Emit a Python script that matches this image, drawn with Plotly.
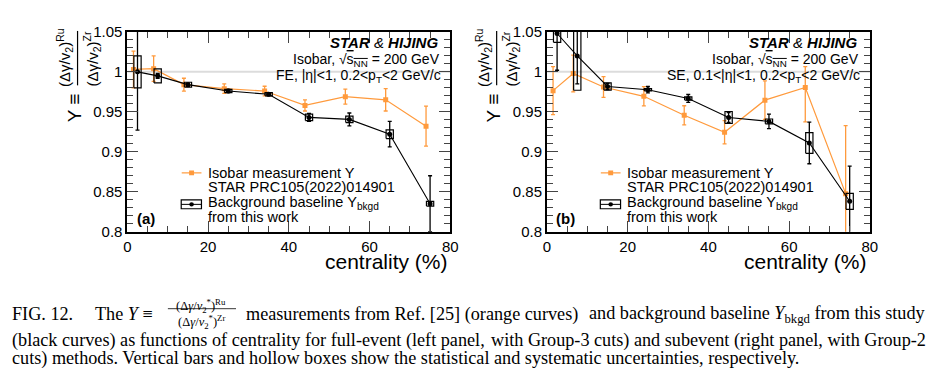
import plotly.graph_objects as go

# ---------------- data ----------------
cent_iso = [1.5, 6.5, 14, 24, 34, 44, 54, 64, 74]
cent_bkg = [2.5, 7.5, 15, 25, 35, 45, 55, 65, 75]

# (a) full event
y_iso_fe = [1.003, 1.004, 0.984, 0.979, 0.976, 0.958, 0.969, 0.965, 0.932]
stat_iso_fe = [0.023, 0.016, 0.008, 0.006, 0.006, 0.007, 0.0095, 0.014, 0.025]
y_bkg_fe = [1.000, 0.995, 0.984, 0.976, 0.972, 0.943, 0.9405, 0.922, 0.835]
stat_bkg_fe = [0.073, 0.003, 0.002, 0.002, 0.002, 0.005, 0.008, 0.016, 0.035]
sys_bkg_fe = [0.020, 0.0088, 0.003, 0.002, 0.002, 0.004, 0.004, 0.0055, 0.003]

# (b) subevent
y_iso_se = [0.9765, 0.998, 0.981, 0.9694, 0.9456, 0.9245, 0.9646, 0.9805, 0.8476]
stat_iso_se_up = [0.030, 0.023, 0.013, 0.012, 0.012, 0.0145, 0.024, 0.026, 0.085]
stat_iso_se_dn = [0.030, 0.023, 0.013, 0.012, 0.012, 0.0145, 0.024, 0.043, 0.085]
y_bkg_se = [1.048, 1.020, 0.9817, 0.9777, 0.9667, 0.9429, 0.938, 0.911, 0.838]
stat_bkg_se = [0.046, 0.035, 0.004, 0.004, 0.005, 0.006, 0.009, 0.026, 0.044]
sys_bkg_se = [0.011, 0.043, 0.0045, 0.0015, 0.002, 0.0075, 0.003, 0.013, 0.010]

box_halfwidth = 0.9

x_ticks = [0, 20, 40, 60, 80]
y_ticks = [0.8, 0.85, 0.9, 0.95, 1.0, 1.05]
y_ticktext = ["0.8", "0.85", "0.9", "0.95", "1", "1.05"]

ORANGE = "#ff9a3c"
W, H = 944, 373
FONT = "Liberation Sans, Arial, sans-serif"
SERIF = "Liberation Serif, Times New Roman, serif"


def X(px):
    return px / W


def Y(py):
    return 1 - py / H


fig = go.Figure()


def box_path(xs, ys, ss, hw):
    bx, by = [], []
    for x, y, s in zip(xs, ys, ss):
        bx += [x - hw, x + hw, x + hw, x - hw, x - hw, None]
        by += [y - s, y - s, y + s, y + s, y - s, None]
    return bx, by


def add_panel(xa, ya, yi, ei_up, ei_dn, yb, eb, sb):
    fig.add_trace(go.Scatter(
        x=cent_iso, y=yi, mode="lines+markers", xaxis=xa, yaxis=ya,
        line=dict(color=ORANGE, width=1.2),
        marker=dict(symbol="square", size=5, color=ORANGE),
        error_y=dict(type="data", array=ei_up, arrayminus=ei_dn, symmetric=False,
                     color=ORANGE, thickness=1.3, width=2),
        showlegend=False, hoverinfo="skip"))
    bx, by = box_path(cent_bkg, yb, sb, box_halfwidth)
    fig.add_trace(go.Scatter(
        x=bx, y=by, mode="lines", xaxis=xa, yaxis=ya,
        line=dict(color="black", width=1.2), showlegend=False, hoverinfo="skip"))
    fig.add_trace(go.Scatter(
        x=cent_bkg, y=yb, mode="lines+markers", xaxis=xa, yaxis=ya,
        line=dict(color="black", width=1.1),
        marker=dict(symbol="circle", size=5, color="black"),
        error_y=dict(type="data", array=eb, color="black", thickness=1.3, width=2),
        showlegend=False, hoverinfo="skip"))


add_panel("x", "y", y_iso_fe, stat_iso_fe, stat_iso_fe, y_bkg_fe, stat_bkg_fe, sys_bkg_fe)
add_panel("x2", "y2", y_iso_se, stat_iso_se_up, stat_iso_se_dn, y_bkg_se, stat_bkg_se, sys_bkg_se)

ydom = [Y(233.3), Y(24)]
axis_common = dict(showline=True, linewidth=2, linecolor="black", mirror="allticks",
                   ticks="inside", showgrid=False, zeroline=False,
                   tickfont=dict(size=15, color="black", family=FONT))
xcommon = dict(axis_common, range=[0, 80], tickvals=x_ticks, ticklen=11, tickwidth=1,
               minor=dict(dtick=5, tick0=0, ticklen=6, ticks="inside", tickwidth=1, showgrid=False))
ycommon = dict(axis_common, range=[0.8, 1.05], tickvals=y_ticks, ticktext=y_ticktext,
               ticklen=11, tickwidth=1,
               minor=dict(dtick=0.01, tick0=0.8, ticklen=6, ticks="inside", tickwidth=1, showgrid=False))

fig.update_layout(
    width=W, height=H, autosize=False,
    margin=dict(l=0, r=0, t=0, b=0),
    paper_bgcolor="white", plot_bgcolor="white",
    font=dict(family=FONT, color="black"),
    xaxis=dict(xcommon, domain=[X(125), X(452)], anchor="y"),
    yaxis=dict(ycommon, domain=ydom, anchor="x"),
    xaxis2=dict(xcommon, domain=[X(550), X(877)], anchor="y2"),
    yaxis2=dict(ycommon, domain=ydom, anchor="x2"),
)

shapes = []
ann = []

for xr, yr in [("x", "y"), ("x2", "y2")]:
    shapes.append(dict(type="line", xref=f"{xr} domain", yref=yr, x0=0, x1=1, y0=1, y1=1,
                       line=dict(color="#dcdcdc", width=2), layer="below"))


def text(px, py, t, size, xanchor="center", angle=0, family=FONT, yanchor="middle"):
    ann.append(dict(x=X(px), y=Y(py), xref="paper", yref="paper", text=t, showarrow=False,
                    xanchor=xanchor, yanchor=yanchor, textangle=angle,
                    font=dict(size=size, family=family, color="black")))


panels = [(0, "FE, |η|&lt;1, 0.2&lt;p<sub>T</sub>&lt;2 GeV/c", "(a)"),
          (424.5, "SE, 0.1&lt;|η|&lt;1, 0.2&lt;p<sub>T</sub>&lt;2 GeV/c", "(b)")]
for dx, cuts, lab in panels:
    # header texts
    text(442 + dx, 35, "<b><i>STAR</i></b> <i>&amp;</i> <b><i>HIJING</i></b>", 15, "right")
    text(443.5 + dx, 53, "Isobar, √<span style='text-decoration:overline'>s<sub>NN</sub></span> = 200 GeV", 14, "right")
    text(445 + dx, 70, cuts, 14, "right")
    # legend
    shapes.append(dict(type="line", xref="paper", yref="paper", x0=X(180 + dx), x1=X(200 + dx),
                       y0=Y(171.7), y1=Y(171.7), line=dict(color=ORANGE, width=1.2)))
    shapes.append(dict(type="rect", xref="paper", yref="paper", x0=X(187.5 + dx), x1=X(192.5 + dx),
                       y0=Y(169.2), y1=Y(174.2), line=dict(width=0), fillcolor=ORANGE))
    shapes.append(dict(type="rect", xref="paper", yref="paper", x0=X(179.5 + dx), x1=X(200 + dx),
                       y0=Y(200), y1=Y(209.3), line=dict(color="black", width=1.2)))
    shapes.append(dict(type="line", xref="paper", yref="paper", x0=X(179.5 + dx), x1=X(200 + dx),
                       y0=Y(204.7), y1=Y(204.7), line=dict(color="black", width=1)))
    shapes.append(dict(type="circle", xref="paper", yref="paper", x0=X(187.7 + dx), x1=X(192.3 + dx),
                       y0=Y(202.4), y1=Y(207), line=dict(width=0), fillcolor="black"))
    text(204.3 + dx, 171.7, "Isobar measurement Y", 14.5, "left")
    text(204.3 + dx, 186.7, "STAR PRC105(2022)014901", 14.5, "left")
    text(204.3 + dx, 203.3, "Background baseline Y<sub>bkgd</sub>", 14.5, "left")
    text(204.3 + dx, 218.3, "from this work", 14.5, "left")
    text(132.5 + dx, 220, f"<b>{lab}</b>", 15, "left")
    # axis title
    text(452 + dx, 265, "centrality (%)", 21, "right")
    # y-axis title (rotated fraction)
    text(61 + dx, 51, "(Δγ/v<sub>2</sub>)<sup>Ru</sup>", 15, angle=-90)
    text(88.5 + dx, 52.5, "(Δγ/v<sub>2</sub>)<sup>Zr</sup>", 15, angle=-90)
    shapes.append(dict(type="line", xref="paper", yref="paper", x0=X(74.5 + dx), x1=X(74.5 + dx),
                       y0=Y(23), y1=Y(80), line=dict(color="black", width=1.2)))
    text(71 + dx, 104, "Y ≡", 19, angle=-90)

# ---------------- caption ----------------
CS = 18.2
L1, L2, L3 = 320, 347.5, 366
text(6, L1, "FIG. 12.", CS, "left", family=SERIF)
text(90, L1, "The <i>Y</i> ≡", CS, "left", family=SERIF)
text(200, L1 - 9, "(Δ<i>γ</i>/<i>v</i><sub>2</sub><sup>*</sup>)<sup>Ru</sup>", 12.5, family=SERIF)
text(200, L1 + 8, "(Δ<i>γ</i>/<i>v</i><sub>2</sub><sup>*</sup>)<sup>Zr</sup>", 12.5, family=SERIF)
shapes.append(dict(type="line", xref="paper", yref="paper", x0=X(166), x1=X(235),
                   y0=Y(314), y1=Y(314), line=dict(color="black", width=0.8)))
text(243, L1, "measurements from Ref. [25] (orange curves)", CS, "left", family=SERIF)
text(936, L1, "and background baseline <i>Y</i><sub>bkgd</sub> from this study", CS, "right", family=SERIF)
text(6, L2, "(black curves) as functions of centrality for full-event (left panel,", CS, "left", family=SERIF)
text(936, L2, "with Group-3 cuts) and subevent (right panel, with Group-2", CS, "right", family=SERIF)
text(6, L3, "cuts) methods. Vertical bars and hollow boxes show the statistical and systematic uncertainties, respectively.",
     CS, "left", family=SERIF)

fig.update_layout(shapes=shapes, annotations=ann)

fig.write_html("out.html", config={"displayModeBar": False},
               post_script="document.body.style.margin='0';document.body.style.overflow='hidden';")
